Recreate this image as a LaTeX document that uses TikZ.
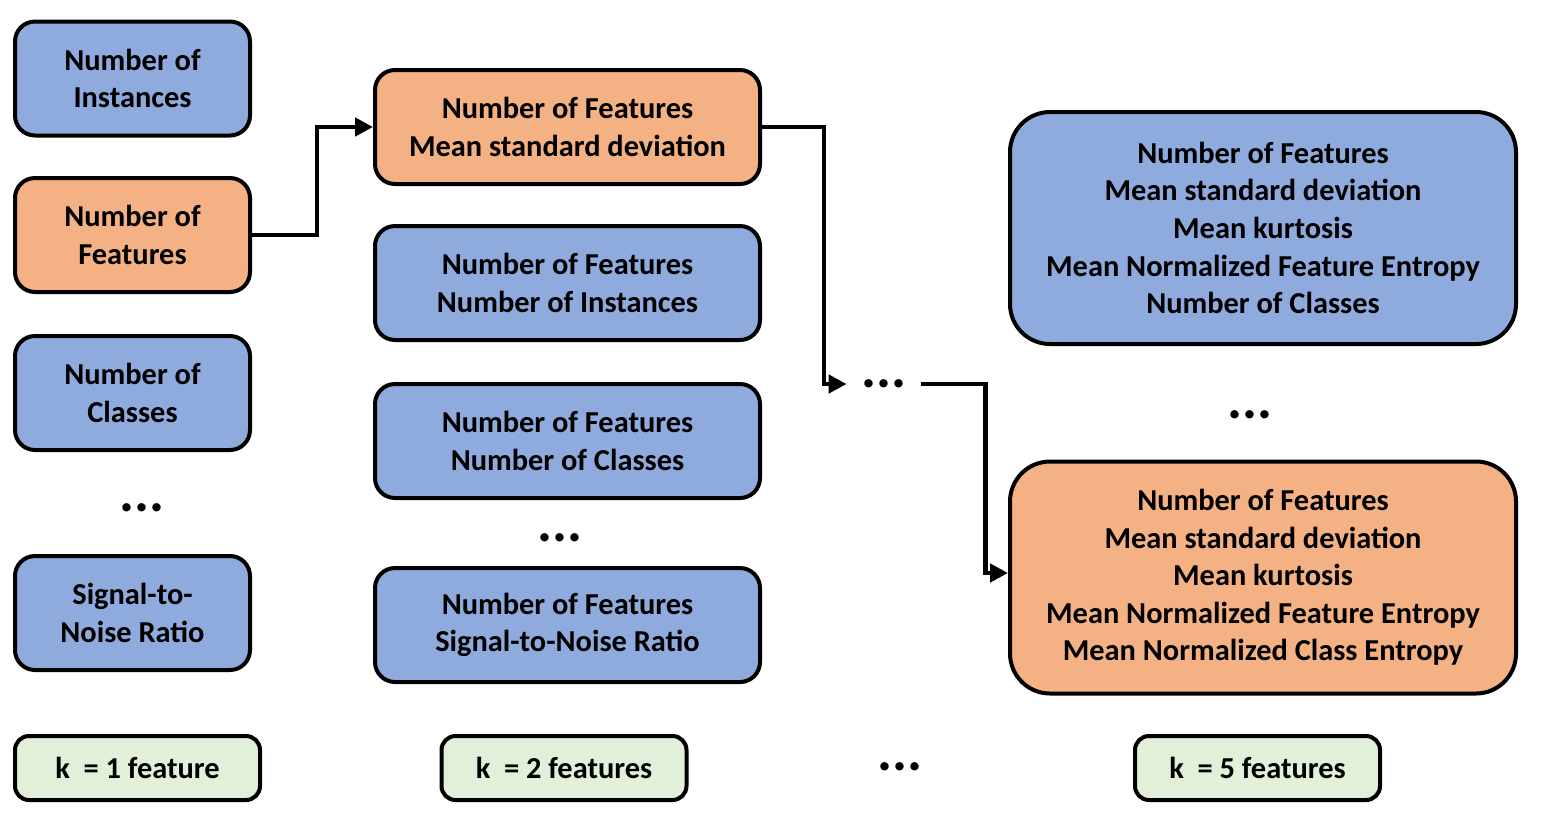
\documentclass[tikz,border=0pt]{standalone}
\usepackage{fontspec}
\setmainfont{Carlito}
\usetikzlibrary{arrows.meta}
\definecolor{featblue}{HTML}{8FAADC}
\definecolor{featorange}{HTML}{F4B183}
\definecolor{kgreen}{HTML}{E2F0D9}

\begin{document}
\begin{tikzpicture}[x=0.5pt, y=-0.5pt, >={Triangle[length=9pt, width=9pt]},
    box/.style={draw, line width=2pt, rounded corners=10pt, align=center, inner sep=0pt,
        font=\fontsize{15.2}{18.8}\selectfont\bfseries},
    one/.style={box, minimum width=117.5pt, minimum height=57pt},
    two/.style={box, minimum width=192.5pt, minimum height=57pt},
    five/.style={box, minimum width=253pt, minimum height=116pt, rounded corners=20pt},
    kbox/.style={box, fill=kgreen, minimum width=122.5pt, minimum height=32pt, rounded corners=7pt},
    dots/.style={inner sep=0pt, font=\fontsize{28}{28}\selectfont\bfseries}]
    \useasboundingbox (0,0) rectangle (1542,816);

    % k = 1
    \node (inst1) [one, fill=featblue] at (132.5,78.5) {Number of\\Instances};
    \node (f1) [one, fill=featorange] at (132.5,235) {Number of\\Features};
    \node (cls1) [one, fill=featblue] at (132.5,393) {Number of\\Classes};
    \node (d1) [dots] at (142,508) {...};
    \node (snr1) [one, fill=featblue] at (132.5,613) {Signal-to-\\Noise Ratio};
    \node (k1) [kbox] at (137.5,768) {k~ = 1 feature};

    % k = 2
    \node (o2) [two, fill=featorange] at (567.5,127) {Number of Features\\Mean standard deviation};
    \node (inst2) [two, fill=featblue] at (567.5,283) {Number of Features\\Number of Instances};
    \node (cls2) [two, fill=featblue] at (567.5,441) {Number of Features\\Number of Classes};
    \node (dd2) [dots] at (560,538) {...};
    \node (snr2) [two, fill=featblue] at (567.5,625) {Number of Features\\Signal-to-Noise Ratio};
    \node (k2) [kbox] at (564,768) {k~ = 2 features};

    % in between
    \node (d2) [dots, minimum width=37pt] at (884,384) {...};
    \node (dk) [dots] at (900,767) {...};

    % k = 5
    \node (b5) [five, fill=featblue] at (1263,228) {Number of Features\\Mean standard deviation\\Mean kurtosis\\Mean Normalized Feature Entropy\\Number of Classes};
    \node (d5) [dots] at (1250,415) {...};
    \node (o5) [five, fill=featorange] at (1263,577.5) {Number of Features\\Mean standard deviation\\Mean kurtosis\\Mean Normalized Feature Entropy\\Mean Normalized Class Entropy};
    \node (k5) [kbox] at (1257.5,768) {k~ = 5 features};

    % Selection path
    \draw[->, line width=2.4pt] (f1.east) -- ++(65,0) |- (o2.west);
    \draw[->, line width=2.4pt] (o2.east) -- ++(62,0) |- (d2.west);
    \draw[->, line width=2.4pt] (d2.east) -- ++(64,0) |- ([yshift=2.25pt]o5.west);
\end{tikzpicture}
\end{document}
